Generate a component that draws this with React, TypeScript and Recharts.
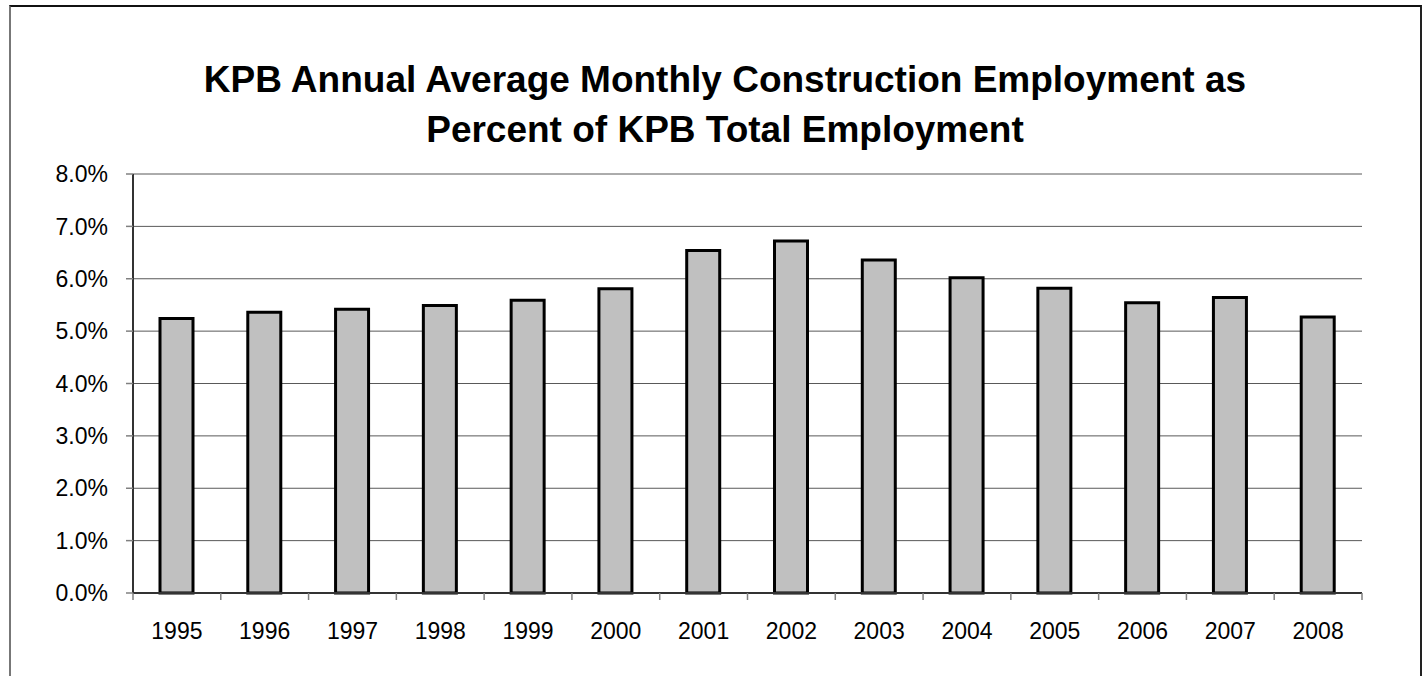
import React from 'react';
import { BarChart, Bar, XAxis, YAxis, CartesianGrid } from 'recharts';

// values (percent of total employment)
const years = ['1995', '1996', '1997', '1998', '1999', '2000', '2001', '2002', '2003', '2004', '2005', '2006', '2007', '2008'];
const constructionPct = [5.24, 5.36, 5.42, 5.49, 5.59, 5.81, 6.54, 6.72, 6.36, 6.02, 5.82, 5.54, 5.64, 5.27];
const yTicks = [0, 1, 2, 3, 4, 5, 6, 7, 8];

const data = years.map((year, i) => ({ year, pct: constructionPct[i] }));

const FONT = '"Liberation Sans", Arial, sans-serif';

// Excel-style category axis: tick marks sit between the categories
const YearTick = (props: any) => {
  const { x, y, payload, index, visibleTicksCount, width } = props;
  const half = payload && payload.offset ? payload.offset : width / visibleTicksCount / 2;
  return (
    <g>
      <line x1={x - half} y1={y} x2={x - half} y2={y + 7} stroke="#808080" strokeWidth={1.5} />
      {index === visibleTicksCount - 1 && (
        <line x1={x + half} y1={y} x2={x + half} y2={y + 7} stroke="#808080" strokeWidth={1.5} />
      )}
      <text x={x} y={y + 46} textAnchor="middle" fontSize={23} fontFamily={FONT} fill="#000">
        {payload.value}
      </text>
    </g>
  );
};

export default function App() {
  return (
    <div style={{ position: 'absolute', left: 0, top: 0, width: 1425, height: 676, overflow: 'hidden', background: '#fff' }}>
      <div
        style={{
          position: 'absolute',
          left: 9,
          top: 5,
          width: 1409,
          height: 700,
          borderTop: '2px solid #111',
          borderLeft: '2px solid #777',
          borderRight: '2px solid #222',
        }}
      />
      <div
        style={{
          position: 'absolute',
          left: 0,
          top: 55,
          width: 1450,
          textAlign: 'center',
          fontFamily: FONT,
          fontWeight: 'bold',
          fontSize: 37,
          lineHeight: '50px',
          whiteSpace: 'nowrap',
          color: '#000',
        }}
      >
        KPB Annual Average Monthly Construction Employment as
        <br />
        Percent of KPB Total Employment
      </div>
      <div style={{ position: 'absolute', left: 0, top: 0 }}>
        <BarChart
          width={1425}
          height={676}
          data={data}
          margin={{ top: 174, right: 63, bottom: 0, left: 0 }}
          barSize={33}
        >
          <CartesianGrid vertical={false} stroke="#595959" strokeWidth={1} />
          <XAxis
            dataKey="year"
            height={83}
            interval={0}
            tickSize={0}
            tickMargin={0}
            tickLine={false}
            axisLine={{ stroke: '#333', strokeWidth: 2 }}
            tick={<YearTick />}
          />
          <XAxis
            xAxisId="top"
            dataKey="year"
            orientation="top"
            height={0}
            tick={false}
            tickLine={false}
            axisLine={{ stroke: '#8c8c8c', strokeWidth: 2 }}
          />
          <YAxis
            width={133}
            domain={[0, 8]}
            ticks={yTicks}
            interval={0}
            tickSize={7}
            tickMargin={18}
            tickLine={{ stroke: '#808080', strokeWidth: 1.5 }}
            axisLine={{ stroke: '#333', strokeWidth: 2 }}
            tick={{ fontSize: 23, fontFamily: FONT, fill: '#000' }}
            tickFormatter={(v: number) => v.toFixed(1) + '%'}
          />
          <YAxis
            yAxisId="right"
            orientation="right"
            width={0}
            domain={[0, 8]}
            tick={false}
            tickLine={false}
            axisLine={{ stroke: '#8c8c8c', strokeWidth: 2 }}
          />
          <Bar dataKey="pct" fill="#C0C0C0" stroke="#000" strokeWidth={3} isAnimationActive={false} />
        </BarChart>
      </div>
    </div>
  );
}
